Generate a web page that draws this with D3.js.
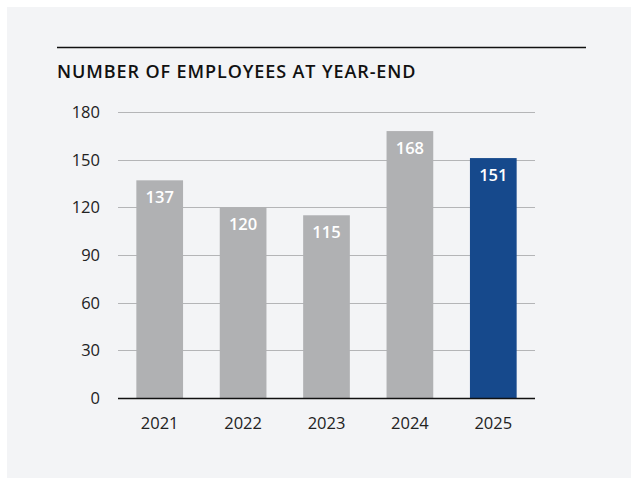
<!DOCTYPE html>
<html>
<head>
<meta charset="utf-8">
<script src="https://cdn.jsdelivr.net/npm/d3@7"></script>
<style>
  body { margin: 0; background: #ffffff; }
  svg { display: block; }
</style>
</head>
<body>
<div id="chart"></div>
<script>
const years = ["2021", "2022", "2023", "2024", "2025"];
const employees = [137, 120, 115, 168, 151];
const yTicks = [0, 30, 60, 90, 120, 150, 180];
const title = "NUMBER OF EMPLOYEES AT YEAR-END";

const W = 631, H = 478;
const margin = { top: 112, right: 96, bottom: 80, left: 118 };
const font = "'Open Sans', sans-serif";

const svg = d3.select("#chart").append("svg")
  .attr("width", W)
  .attr("height", H);

// panel background
svg.append("rect")
  .attr("x", 7).attr("y", 7)
  .attr("width", W - 7).attr("height", H - 7)
  .attr("fill", "#f3f4f6");

// rule above title
svg.append("line")
  .attr("x1", 57).attr("x2", 586)
  .attr("y1", 47.5).attr("y2", 47.5)
  .attr("stroke", "#111").attr("stroke-width", 1.5);

svg.append("text")
  .attr("x", 57).attr("y", 78)
  .attr("font-family", font)
  .attr("font-weight", 600)
  .attr("font-size", 18)
  .attr("letter-spacing", 0.9)
  .attr("fill", "#111")
  .text(title);

const x = d3.scaleBand()
  .domain(years)
  .range([margin.left, W - margin.right])
  .paddingInner(0.44)
  .paddingOuter(0.22);

const y = d3.scaleLinear()
  .domain([0, 180])
  .range([398, 112]);

// gridlines
svg.append("g")
  .selectAll("line")
  .data(yTicks.filter(d => d > 0))
  .join("line")
    .attr("x1", margin.left).attr("x2", W - margin.right)
    .attr("y1", d => Math.round(y(d)) + 0.5).attr("y2", d => Math.round(y(d)) + 0.5)
    .attr("stroke", "#b4b5b7").attr("stroke-width", 1);

// y labels
svg.append("g")
  .selectAll("text")
  .data(yTicks)
  .join("text")
    .attr("x", 100)
    .attr("y", d => y(d) + 6)
    .attr("text-anchor", "end")
    .attr("font-family", font)
    .attr("font-size", 16.5)
    .attr("fill", "#222")
    .text(d => d);

// bars
svg.append("g")
  .selectAll("rect")
  .data(employees)
  .join("rect")
    .attr("x", (d, i) => x(years[i]))
    .attr("y", d => y(d))
    .attr("width", x.bandwidth())
    .attr("height", d => y(0) - y(d))
    .attr("fill", (d, i) => i === years.length - 1 ? "#16498c" : "#b0b1b3");

// value labels
svg.append("g")
  .selectAll("text")
  .data(employees)
  .join("text")
    .attr("x", (d, i) => x(years[i]) + x.bandwidth() / 2)
    .attr("y", d => y(d) + 23)
    .attr("text-anchor", "middle")
    .attr("font-family", font)
    .attr("font-weight", 600)
    .attr("font-size", 16.5)
    .attr("fill", "#fff")
    .text(d => d);

// baseline
svg.append("line")
  .attr("x1", margin.left).attr("x2", W - margin.right)
  .attr("y1", 398.5).attr("y2", 398.5)
  .attr("stroke", "#111").attr("stroke-width", 1.5);

// x labels
svg.append("g")
  .selectAll("text")
  .data(years)
  .join("text")
    .attr("x", d => x(d) + x.bandwidth() / 2)
    .attr("y", 429)
    .attr("text-anchor", "middle")
    .attr("font-family", font)
    .attr("font-size", 16.5)
    .attr("fill", "#222")
    .text(d => d);
</script>
</body>
</html>
